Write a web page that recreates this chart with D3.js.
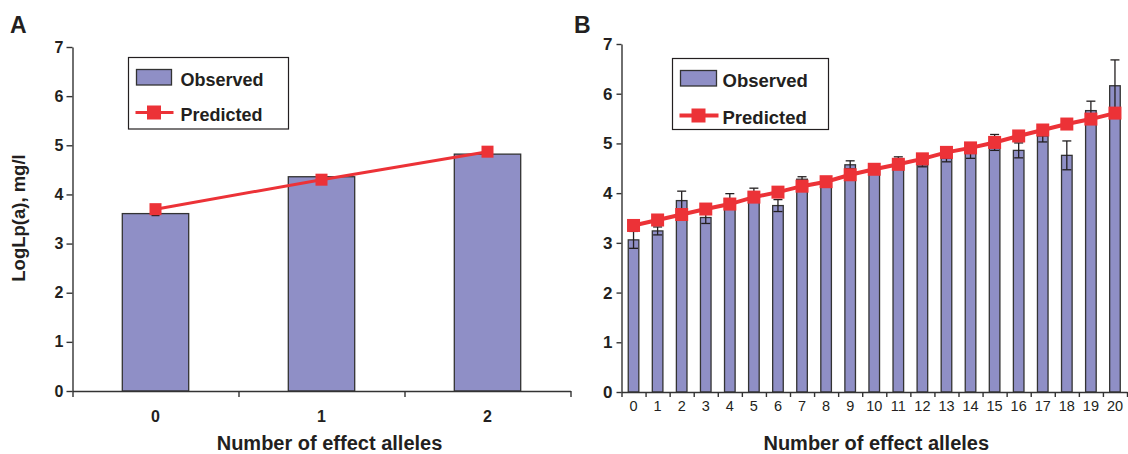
<!DOCTYPE html>
<html>
<head>
<meta charset="utf-8">
<script src="https://cdn.jsdelivr.net/npm/d3@7"></script>
<style>
  body { margin: 0; background: #fff; }
  svg { display: block; font-family: "Liberation Sans", Arial, sans-serif; }
</style>
</head>
<body>
<svg id="chart" width="1128" height="454"></svg>
<script>
// ---- Data ----
const categoriesA = ["0", "1", "2"];
const observedA = [3.61, 4.36, 4.82];
const errorA = [0.04, 0.04, 0.04];
const predictedA = [3.70, 4.30, 4.87];

const categoriesB = ["0","1","2","3","4","5","6","7","8","9","10","11","12","13","14","15","16","17","18","19","20"];
const observedB = [3.06, 3.24, 3.85, 3.51, 3.89, 4.03, 3.75, 4.28, 4.20, 4.57, 4.45, 4.68, 4.57, 4.70, 4.80, 5.02, 4.86, 5.15, 4.76, 5.66, 6.16];
const errorB = [0.17, 0.08, 0.19, 0.12, 0.10, 0.07, 0.12, 0.05, 0.05, 0.08, 0.05, 0.05, 0.04, 0.07, 0.10, 0.16, 0.15, 0.12, 0.29, 0.19, 0.52];
const predictedB = [3.35, 3.46, 3.57, 3.68, 3.78, 3.92, 4.02, 4.14, 4.23, 4.37, 4.48, 4.58, 4.69, 4.82, 4.91, 5.02, 5.15, 5.27, 5.39, 5.49, 5.61];

const yTicks = [0, 1, 2, 3, 4, 5, 6, 7];
const legendLabels = ["Observed", "Predicted"];
const xTitle = "Number of effect alleles";
const yTitle = "LogLp(a), mg/l";

// ---- Style ----
const BAR_FILL = "#8f8fc6";
const BAR_STROKE = "#333";
const RED = "#ec3237";
const INK = "#231f20";

const svg = d3.select("#chart");

function panel(cfg) {
  const g = svg.append("g");
  const n = cfg.cats.length;
  const x = d3.scaleBand().domain(cfg.cats).range([cfg.x0, cfg.x1]).paddingInner(0).paddingOuter(0);
  const xl = d3.scaleLinear().domain([0, n]).range([cfg.x0, cfg.x1]);
  const y = d3.scaleLinear().domain([0, 7]).range([cfg.y0, cfg.y7]);
  const bw = x.bandwidth() * cfg.barFrac;

  // bars
  g.selectAll("rect.bar").data(cfg.obs).join("rect")
    .attr("class", "bar")
    .attr("x", (d, i) => x(cfg.cats[i]) + (x.bandwidth() - bw) / 2)
    .attr("width", bw)
    .attr("y", d => y(d))
    .attr("height", d => y(0) - y(d))
    .attr("fill", BAR_FILL)
    .attr("stroke", BAR_STROKE)
    .attr("stroke-width", 1.3);

  // error bars
  const cx = i => x(cfg.cats[i]) + x.bandwidth() / 2;
  const eg = g.append("g").attr("stroke", INK).attr("stroke-width", 1.3).attr("fill", "none");
  cfg.obs.forEach((d, i) => {
    const e = cfg.err[i];
    eg.append("line").attr("x1", cx(i)).attr("x2", cx(i)).attr("y1", y(d - e)).attr("y2", y(d + e));
    [d - e, d + e].forEach(v => {
      eg.append("line").attr("x1", cx(i) - cfg.cap / 2).attr("x2", cx(i) + cfg.cap / 2)
        .attr("y1", y(v)).attr("y2", y(v));
    });
  });

  // axes
  const ya = d3.axisLeft(y).tickValues(yTicks).tickFormat(d3.format("d")).tickSize(cfg.yTick).tickSizeOuter(0).tickPadding(cfg.yPad);
  const yg = g.append("g").attr("transform", `translate(${cfg.x0},0)`).call(ya);
  yg.selectAll("text").attr("font-size", cfg.yFont).attr("font-weight", "bold").attr("fill", INK);
  yg.selectAll("line,path").attr("stroke", "#333").attr("stroke-width", 1.4);

  const xa = d3.axisBottom(xl).tickValues(d3.range(n + 1)).tickFormat("").tickSize(cfg.xTick).tickSizeOuter(0);
  const xg = g.append("g").attr("transform", `translate(0,${cfg.y0})`).call(xa);
  xg.selectAll("line,path").attr("stroke", "#333").attr("stroke-width", 1.4);

  const xla = d3.axisBottom(x).tickSize(0).tickPadding(cfg.xLabPad);
  const xlg = g.append("g").attr("transform", `translate(0,${cfg.y0})`).call(xla);
  xlg.select("path").remove();
  xlg.selectAll("text").attr("font-size", cfg.xFont).attr("font-weight", cfg.xWeight).attr("fill", INK);

  // predicted line
  const line = d3.line().x((d, i) => cx(i)).y(d => y(d));
  g.append("path").datum(cfg.pred).attr("d", line)
    .attr("fill", "none").attr("stroke", RED).attr("stroke-width", cfg.lineW);
  g.selectAll("rect.mk").data(cfg.pred).join("rect")
    .attr("class", "mk")
    .attr("x", (d, i) => cx(i) - cfg.mk / 2)
    .attr("y", d => y(d) - cfg.mk / 2)
    .attr("width", cfg.mk).attr("height", cfg.mk)
    .attr("fill", RED);

  // x title
  g.append("text").attr("x", (cfg.x0 + cfg.x1) / 2 + cfg.titleDx).attr("y", 450)
    .attr("text-anchor", "middle").attr("font-size", 20).attr("font-weight", "bold")
    .attr("fill", INK).text(xTitle);

  // legend
  const L = cfg.leg;
  const lg = g.append("g");
  lg.append("rect").attr("x", L.x).attr("y", L.y).attr("width", L.w).attr("height", L.h)
    .attr("fill", "#fff").attr("stroke", INK).attr("stroke-width", 1.2);
  lg.append("rect").attr("x", L.x + 8).attr("y", L.y + 12).attr("width", L.sw).attr("height", 15.5)
    .attr("fill", BAR_FILL).attr("stroke", BAR_STROKE).attr("stroke-width", 1.3);
  lg.append("text").attr("x", L.x + L.tx).attr("y", L.y + 28).attr("font-size", L.font)
    .attr("font-weight", "bold").attr("fill", INK).text(legendLabels[0]);
  lg.append("line").attr("x1", L.x + 7).attr("x2", L.x + 8 + L.sw + 2).attr("y1", L.y + L.py).attr("y2", L.y + L.py)
    .attr("stroke", RED).attr("stroke-width", cfg.lineW);
  lg.append("rect").attr("x", L.x + 8 + L.sw / 2 - 7).attr("y", L.y + L.py - 7).attr("width", 14).attr("height", 14)
    .attr("fill", RED);
  lg.append("text").attr("x", L.x + L.tx).attr("y", L.y + L.py + 8).attr("font-size", L.font)
    .attr("font-weight", "bold").attr("fill", INK).text(legendLabels[1]);

  // panel letter
  g.append("text").attr("x", cfg.letterX).attr("y", 33).attr("font-size", 23).attr("font-weight", "bold")
    .attr("fill", INK).text(cfg.letter);
  return g;
}

panel({
  cats: categoriesA, obs: observedA, err: errorA, pred: predictedA,
  x0: 72.5, x1: 570.5, y0: 391, y7: 47, barFrac: 0.4, cap: 8,
  yTick: 6, yPad: 3, yFont: 16, xTick: 6, xLabPad: 20, xFont: 16, xWeight: "bold",
  lineW: 3, mk: 12, titleDx: 8,
  leg: { x: 128.5, y: 57.5, w: 160, h: 71.5, sw: 35, tx: 52, py: 55, font: 18 },
  letter: "A", letterX: 10
});

panel({
  cats: categoriesB, obs: observedB, err: errorB, pred: predictedB,
  x0: 621.5, x1: 1127, y0: 392, y7: 44, barFrac: 0.44, cap: 9,
  yTick: 5, yPad: 4, yFont: 17, xTick: 5, xLabPad: 9, xFont: 14.5, xWeight: "normal",
  lineW: 4, mk: 13, titleDx: 2,
  leg: { x: 672.5, y: 58.5, w: 156, h: 71, sw: 36, tx: 50, py: 57, font: 18.5 },
  letter: "B", letterX: 574
});

// y axis title (panel A only)
svg.append("text")
  .attr("transform", "translate(25,218) rotate(-90)")
  .attr("text-anchor", "middle").attr("font-size", 18.5).attr("font-weight", "bold")
  .attr("fill", INK).text(yTitle);
</script>
</body>
</html>
